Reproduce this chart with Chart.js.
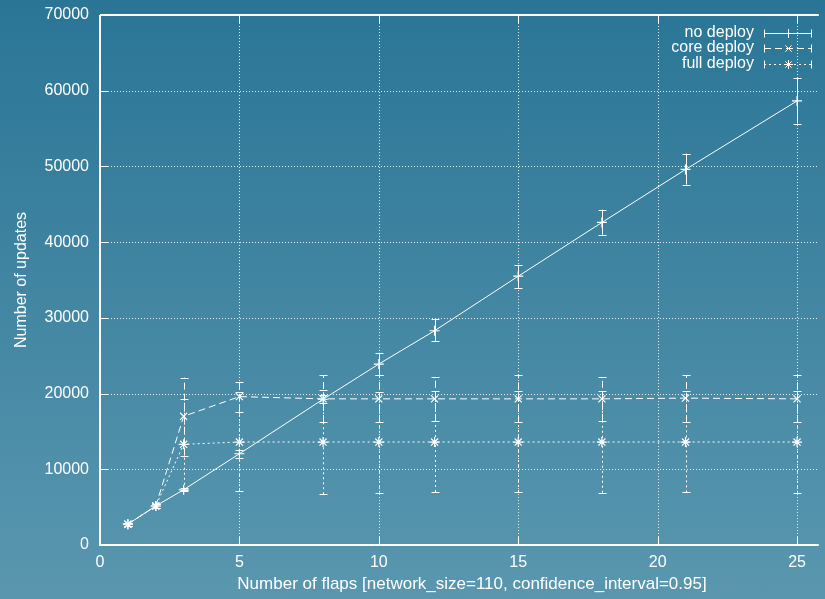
<!DOCTYPE html>
<html>
<head>
<meta charset="utf-8">
<script src="https://cdn.jsdelivr.net/npm/chart.js@4.4.1/dist/chart.umd.min.js"></script>
<style>
  html, body { margin: 0; padding: 0; }
  body {
    width: 825px; height: 599px; overflow: hidden;
    background: linear-gradient(to bottom, #2a7596 0%, #5a97af 100%);
  }
  #wrap { position: relative; width: 825px; height: 599px; }
</style>
</head>
<body>
<div id="wrap"><canvas id="chart"></canvas></div>
<script>
// data
const flaps = [1, 2, 3, 5, 8, 10, 12, 15, 18, 21, 25];

const noDeploy   = [2750, 5150, 7300, 12050, 19250, 23900, 28300, 35500, 42600, 49600, 58650];
const noDeployLo = [2550, 4950, 7100, 11550, 18750, 22400, 26950, 34000, 41000, 47600, 55650];
const noDeployHi = [2950, 5350, 7500, 12600, 19800, 25400, 29800, 37000, 44300, 51700, 61700];

const coreDeploy   = [2750, 5150, 17000, 19600, 19300, 19300, 19300, 19300, 19300, 19400, 19300];
const coreDeployLo = [2550, 4950, 11800, 17600, 16250, 16250, 16400, 16200, 16400, 16250, 16250];
const coreDeployHi = [2950, 5350, 22100, 21500, 22450, 22400, 22200, 22400, 22200, 22450, 22450];

const fullDeploy   = [2750, 5150, 13300, 13600, 13600, 13600, 13600, 13600, 13600, 13600, 13600];
const fullDeployLo = [2550, 4950, 7300, 7100, 6700, 6900, 7000, 7000, 6900, 6950, 6900];
const fullDeployHi = [2950, 5350, 19300, 20200, 20450, 20200, 20300, 20300, 20300, 20300, 20300];

const xTicks = [0, 5, 10, 15, 20, 25];
const yTicks = [0, 10000, 20000, 30000, 40000, 50000, 60000, 70000];
const xTitle = 'Number of flaps [network_size=110, confidence_interval=0.95]';

const FONT = "'Liberation Sans', Arial, sans-serif";
const WHITE = '#ffffff';

function pts(vals) {
  return flaps.map((x, i) => ({x: x, y: vals[i]}));
}

// gnuplot-like frame: dotted grid, inward ticks, top border
const framePlugin = {
  id: 'frame',
  beforeDatasetsDraw(chart) {
    const {ctx, chartArea: a, scales: {x, y}} = chart;
    ctx.save();
    ctx.strokeStyle = 'rgba(255,255,255,0.85)';
    ctx.lineWidth = 1;
    ctx.setLineDash([1, 2]);
    yTicks.slice(1, -1).forEach(v => {
      const py = Math.round(y.getPixelForValue(v)) + 0.5;
      ctx.beginPath(); ctx.moveTo(a.left + 8, py); ctx.lineTo(a.right, py); ctx.stroke();
    });
    xTicks.slice(1).forEach(v => {
      const px = Math.round(x.getPixelForValue(v)) + 0.5;
      ctx.beginPath(); ctx.moveTo(px, a.top + 8); ctx.lineTo(px, a.bottom - 8); ctx.stroke();
    });
    ctx.setLineDash([]);
    ctx.strokeStyle = WHITE;
    yTicks.slice(1, -1).forEach(v => {
      const py = Math.round(y.getPixelForValue(v)) + 0.5;
      ctx.beginPath(); ctx.moveTo(a.left, py); ctx.lineTo(a.left + 8, py); ctx.stroke();
    });
    xTicks.slice(1).forEach(v => {
      const px = Math.round(x.getPixelForValue(v)) + 0.5;
      ctx.beginPath();
      ctx.moveTo(px, a.bottom); ctx.lineTo(px, a.bottom - 8);
      ctx.moveTo(px, a.top); ctx.lineTo(px, a.top + 8);
      ctx.stroke();
    });
    ctx.lineWidth = 2;
    ctx.beginPath();
    ctx.moveTo(a.left, a.top); ctx.lineTo(a.right, a.top);
    ctx.moveTo(a.left, a.top); ctx.lineTo(a.left, a.bottom); ctx.lineTo(a.right, a.bottom);
    ctx.stroke();

    // x axis title, placed like gnuplot does
    ctx.font = '17px ' + FONT;
    ctx.fillStyle = WHITE;
    ctx.textAlign = 'center';
    ctx.textBaseline = 'middle';
    ctx.fillText(xTitle, 472, 584);
    ctx.restore();
  }
};

// error bars and legend drawn with the scales
const errorPlugin = {
  id: 'errbars',
  afterDatasetsDraw(chart) {
    const {ctx, scales: {x, y}} = chart;
    ctx.save();
    ctx.strokeStyle = WHITE;
    ctx.lineWidth = 1;
    chart.data.datasets.forEach(ds => {
      ctx.setLineDash(ds.borderDash || []);
      flaps.forEach((f, i) => {
        const px = Math.round(x.getPixelForValue(f)) + 0.5;
        const lo = y.getPixelForValue(ds.errLo[i]);
        const hi = y.getPixelForValue(ds.errHi[i]);
        ctx.beginPath();
        ctx.moveTo(px, lo); ctx.lineTo(px, hi);
        ctx.stroke();
        ctx.setLineDash([]);
        ctx.beginPath();
        ctx.moveTo(px - 4, Math.round(lo) + 0.5); ctx.lineTo(px + 4, Math.round(lo) + 0.5);
        ctx.moveTo(px - 4, Math.round(hi) + 0.5); ctx.lineTo(px + 4, Math.round(hi) + 0.5);
        ctx.stroke();
        ctx.setLineDash(ds.borderDash || []);
      });
    });
    ctx.setLineDash([]);

    // legend: text right aligned, then a sample with caps and marker
    ctx.font = '16px ' + FONT;
    ctx.fillStyle = WHITE;
    ctx.textAlign = 'right';
    ctx.textBaseline = 'middle';
    chart.data.datasets.forEach((ds, i) => {
      const ly = 32.5 + i * 15.5;
      const yy = Math.round(ly) + 0.5;
      ctx.fillText(ds.label, 754, ly);
      ctx.setLineDash(ds.borderDash || []);
      ctx.beginPath(); ctx.moveTo(764, yy); ctx.lineTo(812, yy); ctx.stroke();
      ctx.setLineDash([]);
      ctx.beginPath();
      ctx.moveTo(764.5, yy - 4); ctx.lineTo(764.5, yy + 4);
      ctx.moveTo(811.5, yy - 4); ctx.lineTo(811.5, yy + 4);
      ctx.stroke();
      Chart.helpers.drawPoint(ctx, {pointStyle: ds.pointStyle, radius: 4.5, borderWidth: 1}, 788.5, yy);
    });
    ctx.restore();
  }
};

const baseSet = {
  borderColor: WHITE,
  pointBorderColor: WHITE,
  pointBackgroundColor: WHITE,
  borderWidth: 1,
  pointRadius: 5,
  pointBorderWidth: 1.2,
  tension: 0,
  fill: false
};

new Chart(document.getElementById('chart'), {
  type: 'line',
  data: {
    datasets: [
      Object.assign({}, baseSet, {
        label: 'no deploy', data: pts(noDeploy), pointStyle: 'cross',
        errLo: noDeployLo, errHi: noDeployHi
      }),
      Object.assign({}, baseSet, {
        label: 'core deploy', data: pts(coreDeploy), pointStyle: 'crossRot',
        borderDash: [7, 4], errLo: coreDeployLo, errHi: coreDeployHi
      }),
      Object.assign({}, baseSet, {
        label: 'full deploy', data: pts(fullDeploy), pointStyle: 'star',
        borderDash: [2, 3], errLo: fullDeployLo, errHi: fullDeployHi
      })
    ]
  },
  options: {
    responsive: true,
    maintainAspectRatio: false,
    animation: false,
    layout: {padding: {top: 15, right: 0, left: 0, bottom: 0}},
    plugins: {
      legend: {display: false},
      tooltip: {enabled: false}
    },
    scales: {
      x: {
        type: 'linear',
        min: 0,
        max: 25.78,
        afterFit: s => { s.height = 54; s.paddingLeft = 0; s.paddingRight = 0; },
        afterBuildTicks: s => { s.ticks = xTicks.map(v => ({value: v})); },
        grid: {display: false, drawTicks: false},
        border: {display: false},
        ticks: {color: WHITE, font: {family: FONT, size: 16}, padding: 8, maxRotation: 0,
                callback: v => String(v)}
      },
      y: {
        type: 'linear',
        min: 0,
        max: 70000,
        afterFit: s => { s.width = 100; s.paddingTop = 0; s.paddingBottom = 0; },
        afterBuildTicks: s => { s.ticks = yTicks.map(v => ({value: v})); },
        grid: {display: false, drawTicks: false},
        border: {display: false},
        ticks: {color: WHITE, font: {family: FONT, size: 16}, padding: 11,
                callback: v => String(v)},
        title: {
          display: true, text: 'Number of updates',
          color: WHITE, font: {family: FONT, size: 16}, padding: {top: 12, bottom: 0}
        }
      }
    }
  },
  plugins: [framePlugin, errorPlugin]
});
</script>
</body>
</html>
